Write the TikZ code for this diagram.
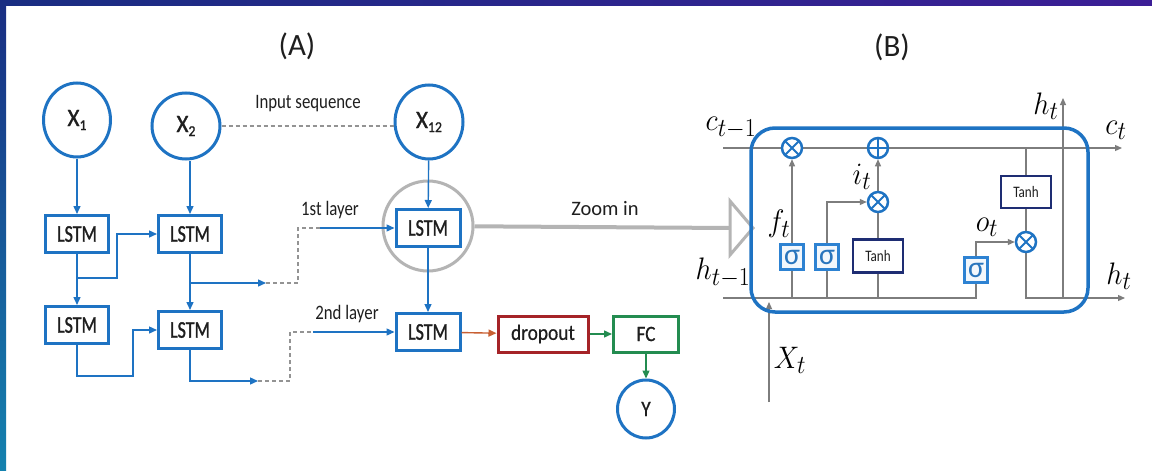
\documentclass[tikz,border=0pt]{standalone}
\usepackage{fontspec}
\setmainfont{Carlito}
\newfontfamily\lfont{Carlito}[FakeStretch=0.82]
\newfontfamily\lstmf{Carlito}[FakeStretch=0.75, FakeBold=1.2]
\newfontfamily\xf{Carlito}[FakeStretch=0.92, FakeBold=1.2]
\newfontfamily\ofont{Carlito}[FakeStretch=0.88, FakeBold=0.5]
\usetikzlibrary{arrows.meta,shapes.geometric}
\definecolor{ablue}{RGB}{30,115,195}
\definecolor{navy}{RGB}{30,45,115}
\definecolor{sblue}{RGB}{45,130,210}
\definecolor{glin}{RGB}{125,125,125}
\definecolor{gcirc}{RGB}{180,180,180}
\definecolor{drd}{RGB}{165,35,40}
\definecolor{grn}{RGB}{35,140,80}
\definecolor{org}{RGB}{200,95,50}
\definecolor{txt}{RGB}{30,30,30}
\definecolor{topl}{RGB}{25,45,130}
\definecolor{topr}{RGB}{60,30,150}
\definecolor{leftb}{RGB}{20,130,175}
\pgfdeclarelayer{bg}
\pgfsetlayers{bg,main}
\tikzset{
  xin/.style={ellipse, draw=ablue, line width=3pt, fill=white, inner sep=0pt,
    font=\xf\fontsize{25}{25}\selectfont, text=txt},
  lstm/.style={draw=ablue, line width=3pt, fill=white, minimum width=63pt,
    minimum height=37pt, inner sep=0pt, font=\lstmf\fontsize{24}{24}\selectfont, text=txt},
  barrow/.style={draw=ablue, line width=1.4pt, -{Triangle[length=8pt,width=7pt]}},
  gdash/.style={draw=gray!85, line width=1.5pt, dash pattern=on 4pt off 3pt},
  lbl/.style={font=\lfont\fontsize{20.5}{20.5}\selectfont, text=txt},
  ttl/.style={font=\fontsize{31}{31}\selectfont, text=txt},
  gline/.style={draw=glin, line width=1.2pt},
  garrow/.style={draw=glin, line width=1.2pt, -{Triangle[length=7pt,width=6pt]}},
  omul/.style={circle, draw=ablue, line width=2.5pt, fill=white, minimum size=20pt,
    inner sep=0pt, path picture={
      \draw[ablue, line width=2pt] (path picture bounding box.north east) -- (path picture bounding box.south west)
        (path picture bounding box.north west) -- (path picture bounding box.south east);}},
  oplus/.style={circle, draw=ablue, line width=2.5pt, fill=white, minimum size=20pt,
    inner sep=0pt, path picture={
      \draw[ablue, line width=2pt] (path picture bounding box.north) -- (path picture bounding box.south)
        (path picture bounding box.west) -- (path picture bounding box.east);}},
  sig/.style={draw=sblue, line width=2.2pt, fill=sblue!6, minimum width=23pt,
    minimum height=25pt, inner sep=0pt, text=sblue!90!black, font=\fontsize{30}{30}\selectfont},
  tanhb/.style={draw=navy, line width=2.5pt, fill=white, minimum width=50pt,
    minimum height=32pt, inner sep=0pt, text=txt, font=\lfont\fontsize{16}{16}\selectfont},
  ml/.style={text=black, font=\fontsize{24.88}{26}\selectfont, inner sep=0pt},
  obox/.style={line width=3pt, fill=white, minimum height=36pt, inner sep=0pt,
    text=txt, font=\ofont\fontsize{22}{22}\selectfont},
}
\newcommand{\mlab}[1]{\scalebox{1.15}[1.25]{$#1$}}
\begin{document}
\begin{tikzpicture}[x=1pt,y=-1pt]
\useasboundingbox (0,0) rectangle (1152,471);
\begin{pgfonlayer}{bg}
\fill[white] (0,0) rectangle (1152,471);
\end{pgfonlayer}
\shade[left color=topl, right color=topr] (0,0) rectangle (1152,5);
\shade[top color=topl, bottom color=leftb] (0,0) rectangle (6,471);

% ---------------- (A) ----------------
\node[ttl] (ta) at (297,46) {(A)};
\node[xin, minimum width=67pt, minimum height=74pt] (x1) at (77,120) {X\raisebox{-4pt}{\fontsize{15}{15}\selectfont 1}};
\node[xin, minimum width=68pt, minimum height=66pt] (x2) at (186,126) {X\raisebox{-4pt}{\fontsize{15}{15}\selectfont 2}};
\node[xin, minimum width=68pt, minimum height=74pt] (x12) at (429,122) {X\raisebox{-4pt}{\fontsize{15}{15}\selectfont 12}};
\draw[gdash] (x2.east) -- (x2.east -| x12.west);
\node[lbl] (lin) at (308,104) {Input sequence};

\node[circle, draw=gcirc, line width=3pt, minimum size=90pt, inner sep=0pt] (zc) at (428,226) {};
\node[lstm] (l11) at (77,234) {LSTM};
\node[lstm] (l12) at (190,234) {LSTM};
\node[lstm, minimum width=64pt] (l13) at (428,228) {LSTM};
\node[lstm] (l21) at (77,325) {LSTM};
\node[lstm] (l22) at (190,330) {LSTM};
\node[lstm, minimum width=64pt] (l23) at (428,332) {LSTM};
\node[obox, draw=drd, minimum width=90pt] (drop) at (543,334) {dropout};
\node[obox, draw=grn, minimum width=65pt] (fc) at (646,334) {FC};
\node[xin, minimum width=57pt, minimum height=58pt, font=\ofont\fontsize{22}{22}\selectfont] (yy) at (646,409) {Y};

\node[lbl] (l1st) at (330,210) {1st layer};
\node[lbl] (l2nd) at (347,314) {2nd layer};

\draw[barrow] (x1) -- (l11);
\draw[barrow] (x2.south -| l12.north) -- (l12);
\draw[barrow] (x12) -- (l13);
\draw[barrow] (l11) -- (l21);
\draw[barrow] (l12) -- (l22);
\draw[barrow] (l13) -- (l23);

\coordinate (j1) at (77,278);
\draw[barrow] (j1) -- ++(40,0) |- (l12.west);
\coordinate (j2) at (190,283);
\coordinate (d1) at (266,283);
\coordinate (e1) at (320,228);
\draw[barrow] (j2) -- (d1);
\draw[gdash] (d1) -- ++(32,0) |- (e1);
\draw[barrow] (e1) -- (l13.west);

\coordinate (k1) at (133,376);
\draw[barrow] (l21.south) |- (k1) |- (l22.west);
\coordinate (d2) at (258,381);
\coordinate (e2) at (313,332);
\draw[barrow] (l22.south) |- (d2);
\draw[gdash] (d2) -- ++(32,0) |- (e2);
\draw[barrow] (e2) -- (l23.west);

\draw[draw=org, line width=1.4pt, -{Triangle[length=8pt,width=7pt]}] (l23) -- (drop);
\draw[draw=grn, line width=1.4pt, -{Triangle[length=8pt,width=7pt]}] (drop) -- (fc);
\draw[draw=grn, line width=1.4pt, -{Triangle[length=8pt,width=7pt]}] (fc) -- (yy);

% zoom arrow
\coordinate (tb) at (730,228);
\coordinate (tu) at (730,201);
\coordinate (tt) at (753,228);
\coordinate (tl) at (730,255);
\draw[draw=gcirc, line width=4pt] (zc) -- (tb);
\draw[draw=gcirc, line width=3pt, fill=white, line join=miter] (tu) -- (tt) -- (tl) -- cycle;
\node[font=\fontsize{20.5}{20.5}\selectfont, text=txt] (lzoom) at (605,209) {Zoom in};

% ---------------- (B) ----------------
\node[ttl] (tbb) at (892,47) {(B)};

\node[omul] (fm) at (792,148) {};
\node[oplus] (pl) at (878,148) {};
\node[omul] (im) at (878,202) {};
\node[omul] (om) at (1026,242) {};
\node[sig] (sf) at (792,257) {σ};
\node[sig] (si) at (827,257) {σ};
\node[sig] (so) at (976,270) {σ};
\node[tanhb, minimum height=33pt] (ti) at (878,256) {Tanh};
\node[tanhb] (to) at (1026,192) {Tanh};

\coordinate (cin) at (723,148);
\coordinate (cout) at (1122,148);
\coordinate (hin) at (723,298);
\coordinate (hout) at (1125,298);
\coordinate (hup0) at (1063,298);
\coordinate (hup) at (1063,98);
\coordinate (xt0) at (769,402);
\coordinate (xtt) at (769,302);

\begin{pgfonlayer}{bg}
\draw[garrow] (cin) -- (cout);
\draw[gline] (hin) -| (so.south);
\draw[garrow] (sf.south |- hin) -- (fm.south);
\draw[garrow] (si.south |- hin) |- (im.west);
\draw[gline] (ti.south |- hin) -- (im.south);
\draw[garrow] (im) -- (pl);
\draw[garrow] (so.north) |- (om.west);
\draw[gline] (to.north |- cin) -- (om.north);
\draw[garrow] (om.south) |- (hout);
\draw[garrow] (hup0) -- (hup);
\draw[garrow] (xt0) -- (xtt);
\end{pgfonlayer}

\node[draw=ablue, line width=3.5pt, rounded corners=24pt, minimum width=337pt,
  minimum height=184pt, inner sep=0pt] (cell) at (919.5,220) {};

\node[ml] (lc1) at (731,128) {\mlab{c_{t-1}}};
\node[ml] (lc2) at (1116,130) {\mlab{c_t}};
\node[ml] (lh1) at (723,273) {\mlab{h_{t-1}}};
\node[ml] (lh2) at (1119,276) {\mlab{h_t}};
\node[ml] (lh3) at (1046,106) {\mlab{h_t}};
\node[ml] (lf) at (779,224) {\mlab{f_t}};
\node[ml] (li) at (862,177) {\mlab{i_t}};
\node[ml] (lo) at (987,227) {\mlab{o_t}};
\node[ml] (lx) at (790,360) {\mlab{X_t}};
\end{tikzpicture}
\end{document}
